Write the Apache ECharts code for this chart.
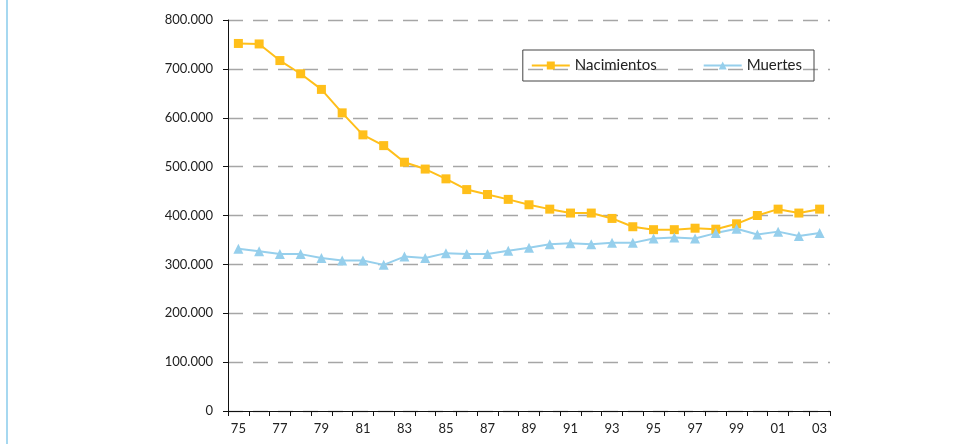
<!DOCTYPE html>
<html>
<head>
<meta charset="utf-8">
<script src="https://cdn.jsdelivr.net/npm/echarts@6/dist/echarts.min.js"></script>
<style>
  html, body { margin: 0; padding: 0; background: #fff; }
  #chart { width: 980px; height: 444px; }
</style>
</head>
<body>
<div id="chart"></div>
<script>
// años 1975-2003
const years = ["75","76","77","78","79","80","81","82","83","84","85","86","87","88","89",
  "90","91","92","93","94","95","96","97","98","99","00","01","02","03"];
const nacimientos = [752, 751, 717, 690, 658, 610, 565, 543, 509, 495, 475, 453, 443, 433, 422,
  413, 405, 405, 394, 377, 371, 371, 374, 372, 383, 400, 413, 405, 413].map(v => v * 1000);
const muertes = [332, 327, 321, 321, 313, 308, 308, 299, 316, 313, 323, 321, 321, 328, 334,
  341, 343, 341, 344, 344, 353, 355, 353, 364, 373, 361, 367, 358, 364].map(v => v * 1000);
const yTicks = { min: 0, max: 800000, interval: 100000 };

const font = "Lato";
const chart = echarts.init(document.getElementById("chart"));

chart.setOption({
  animation: false,
  textStyle: { fontFamily: font },
  graphic: [{
    type: "rect",
    shape: { x: 6, y: 0, width: 2, height: 444 },
    style: { fill: "#a6d8f0" }
  }],
  legend: {
    right: 166,
    top: 50,
    orient: "horizontal",
    padding: [8, 12, 8, 8],
    itemGap: 46,
    itemWidth: 38,
    itemHeight: 10,
    borderColor: "#444",
    borderWidth: 1,
    borderRadius: 0,
    textStyle: { fontFamily: font, fontSize: 15, color: "#222" },
    data: ["Nacimientos", "Muertes"]
  },
  grid: {
    left: 228,
    right: 150,
    top: 20,
    bottom: 33
  },
  xAxis: {
    type: "category",
    data: years,
    boundaryGap: true,
    axisLine: { lineStyle: { color: "#111", width: 1 } },
    axisTick: { show: true, interval: 0, length: 5, lineStyle: { color: "#111" } },
    axisLabel: {
      interval: 1,
      color: "#222",
      fontSize: 13,
      fontFamily: font,
      margin: 11
    },
    splitLine: { show: false }
  },
  yAxis: {
    type: "value",
    min: yTicks.min,
    max: yTicks.max,
    interval: yTicks.interval,
    axisLine: { show: true, lineStyle: { color: "#111", width: 1 } },
    axisTick: { show: true, length: 5, lineStyle: { color: "#111" } },
    axisLabel: {
      color: "#222",
      fontSize: 13,
      fontFamily: font,
      margin: 15,
      formatter: v => v === 0 ? "0" : (v / 1000) + ".000"
    },
    splitLine: {
      show: true,
      lineStyle: { color: "#a6a6a6", type: [15, 10], width: 1.3 }
    }
  },
  series: [
    {
      name: "Nacimientos",
      type: "line",
      data: nacimientos,
      symbol: "rect",
      symbolSize: 9,
      lineStyle: { color: "#ffbf1a", width: 2 },
      itemStyle: { color: "#ffbf1a" }
    },
    {
      name: "Muertes",
      type: "line",
      data: muertes,
      symbol: "triangle",
      symbolSize: 10,
      lineStyle: { color: "#96cfec", width: 2 },
      itemStyle: { color: "#96cfec" }
    }
  ]
});
</script>
</body>
</html>
